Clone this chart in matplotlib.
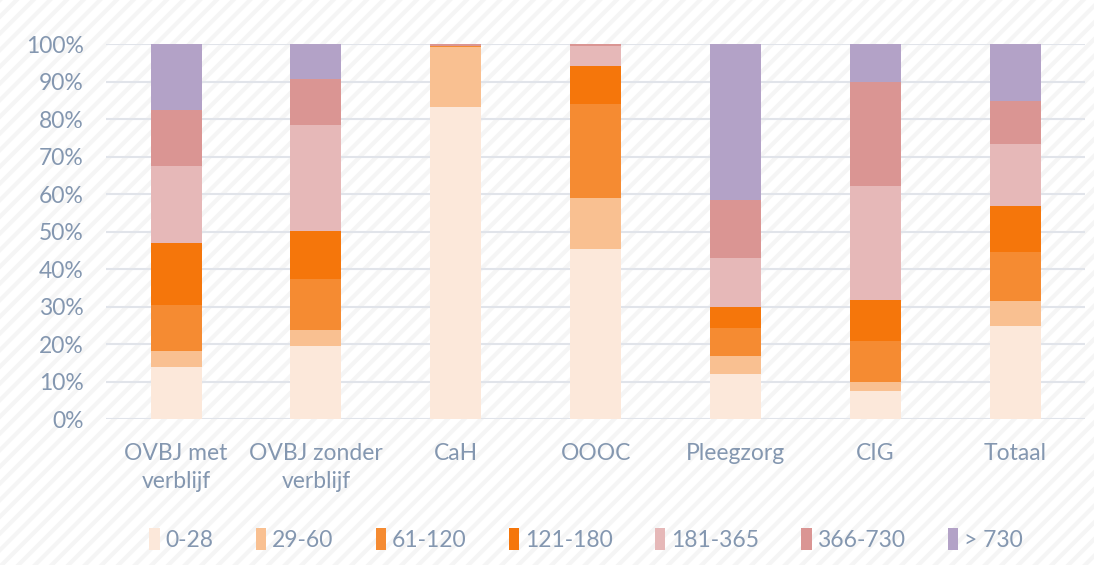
import matplotlib.pyplot as plt
import matplotlib.patches as mpatches
import numpy as np

plt.rcParams['font.family'] = ['Lato', 'DejaVu Sans']
plt.rcParams['hatch.linewidth'] = 3.0
plt.rcParams['hatch.color'] = '#F5F5F5'

# categorieen en waarden (percentages per verblijfsduur)
categories = ['OVBJ met\nverblijf', 'OVBJ zonder\nverblijf', 'CaH', 'OOOC', 'Pleegzorg', 'CIG', 'Totaal']
groups = ['0-28', '29-60', '61-120', '121-180', '181-365', '366-730', '> 730']

v_0_28 = [13.9, 19.5, 83.2, 45.4, 12.1, 7.4, 24.9]
v_29_60 = [4.3, 4.3, 16.0, 13.6, 4.8, 2.4, 6.6]
v_61_120 = [12.3, 13.6, 0.3, 25.0, 7.5, 11.1, 13.1]
v_121_180 = [16.6, 12.8, 0.0, 10.1, 5.6, 10.9, 12.2]
v_181_365 = [20.4, 28.2, 0.1, 5.4, 13.0, 30.4, 16.6]
v_366_730 = [14.9, 12.2, 0.4, 0.5, 15.4, 27.8, 11.5]
v_730 = [17.6, 9.4, 0.0, 0.0, 41.6, 10.0, 15.1]

colors = ['#FCE8DA', '#F9C091', '#F58B32', '#F5760B', '#E6B8B8', '#DA9593', '#B3A2C7']
text_color = '#8497B0'

fig = plt.figure(figsize=(10.94, 5.65), dpi=100)
fig.patch.set_facecolor('white')
bg = mpatches.Rectangle((0, 0), 1, 1, transform=fig.transFigure, facecolor='white',
                        edgecolor='#F5F5F5', hatch='//', linewidth=0, zorder=-10)
fig.patches.append(bg)

ax = fig.add_axes([0.097, 0.258, 0.895, 0.664])
ax.patch.set_alpha(0)

series = [v_0_28, v_29_60, v_61_120, v_121_180, v_181_365, v_366_730, v_730]
x = np.arange(len(categories))
bottom = np.zeros(len(categories))
for name, vals, c in zip(groups, series, colors):
    vals = np.array(vals)
    ax.bar(x, vals, 0.365, bottom=bottom, color=c, label=name, zorder=3)
    bottom += vals

ax.set_xlim(-0.5, len(categories) - 0.5)
ax.set_ylim(0, 100)
ax.set_yticks(np.arange(0, 101, 10))
ax.set_yticklabels([f'{t}%' for t in range(0, 101, 10)])
ax.set_xticks(x)
ax.set_xticklabels(categories, linespacing=1.45)
ax.yaxis.grid(True, color='#E1E4EA', linewidth=1.5, zorder=0)
ax.tick_params(axis='both', length=0, labelsize=16.5, colors=text_color)
ax.tick_params(axis='x', pad=17)
ax.tick_params(axis='y', pad=16)
for s in ax.spines.values():
    s.set_visible(False)

leg = ax.legend(loc='center', bbox_to_anchor=(0.49, -0.32), ncol=7, frameon=False,
                fontsize=16.5, handlelength=0.45, handleheight=1.1, handletextpad=0.25,
                columnspacing=1.85)
for t in leg.get_texts():
    t.set_color(text_color)

fig.savefig('out.png', dpi=100)
